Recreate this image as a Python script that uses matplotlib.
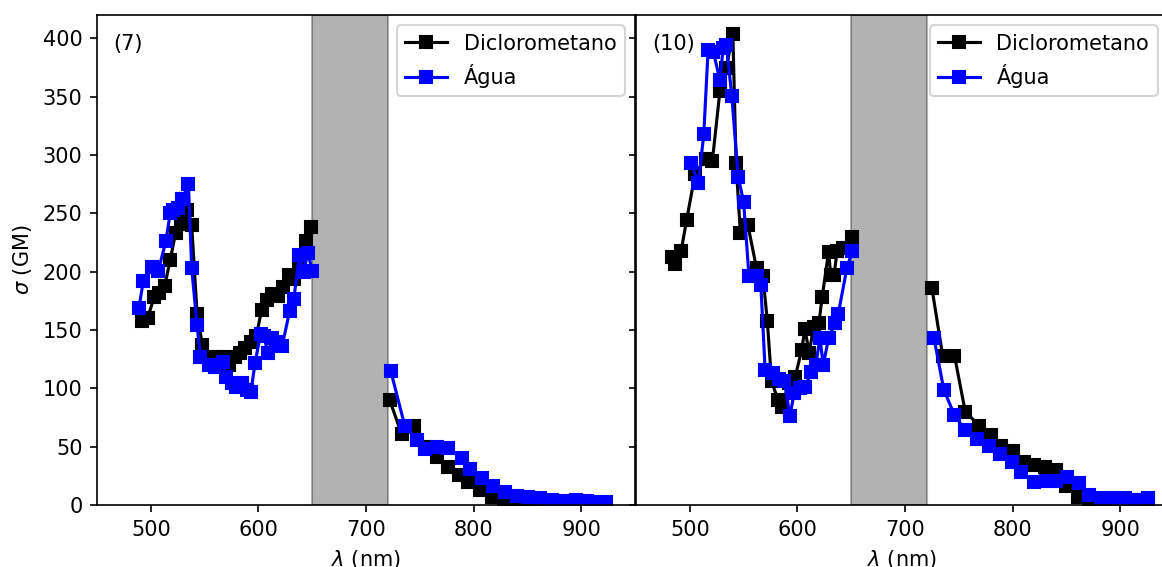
"""
Two-photon absorption cross-section of compounds (7) and (10)
in dichloromethane and water.
"""

import matplotlib
matplotlib.use("Agg")
import matplotlib.pyplot as plt

DPI = 150

# compound (7) - dichloromethane
dcm7_x1 = [492, 497, 503, 508, 513, 518, 523, 528, 534, 538, 543, 548, 553, 558, 563, 568,
           573, 578, 583, 588, 593, 598, 603, 608, 613, 618, 623, 628, 633, 638, 644, 649]
dcm7_y1 = [158, 160, 178, 182, 188, 210, 233, 241, 253, 240, 164, 137, 127, 122, 127, 127,
           120, 127, 130, 135, 140, 145, 167, 176, 181, 179, 187, 197, 194, 205, 226, 238]
dcm7_x2 = [722, 733, 745, 755, 766, 776, 786, 795, 806, 817, 828, 837, 848, 858, 869, 880,
           890, 900, 911, 921]
dcm7_y2 = [90, 61, 68, 50, 41, 33, 26, 20, 13, 7, 3, 1.5, 1, 1, 1, 1.5, 2, 2, 2, 2]

# compound (7) - water
agua7_x1 = [489, 493, 501, 507, 514, 518, 521, 525, 529, 535, 538, 543, 546, 554, 560, 567,
            570, 575, 579, 585, 589, 593, 597, 602, 605, 609, 613, 617, 622, 629, 633, 638,
            642, 646, 650]
agua7_y1 = [169, 192, 204, 201, 226, 250, 253, 255, 262, 275, 203, 154, 127, 120, 118, 123,
            110, 105, 101, 105, 99, 97, 122, 147, 145, 130, 143, 140, 136, 166, 177, 214,
            200, 216, 201]
agua7_x2 = [723, 736, 747, 755, 766, 776, 789, 797, 808, 818, 829, 840, 851, 862, 873, 884,
            895, 905, 914, 923]
agua7_y2 = [115, 68, 56, 48, 50, 49, 40, 31, 23, 16, 11, 8, 7, 6, 4, 3.5, 4, 3.5, 3, 3]

# compound (10) - dichloromethane
dcm10_x1 = [483, 486, 492, 497, 505, 515, 521, 528, 534, 540, 543, 547, 554, 562, 568, 572,
            576, 582, 586, 592, 598, 604, 607, 611, 615, 620, 623, 629, 631, 634, 637, 642, 651]
dcm10_y1 = [213, 207, 218, 244, 284, 297, 295, 355, 375, 404, 293, 233, 240, 203, 196, 158,
            106, 90, 84, 105, 110, 133, 151, 130, 153, 156, 178, 217, 197, 197, 218, 220, 230]
dcm10_x2 = [725, 735, 746, 756, 769, 780, 789, 800, 811, 820, 830, 840, 850, 861, 871, 882,
            893, 904, 915, 926]
dcm10_y2 = [186, 128, 128, 80, 68, 60, 51, 46, 37, 34, 33, 30, 16, 7, 4, 4, 4, 4, 4, 4]

# compound (10) - water
agua10_x1 = [501, 508, 513, 517, 522, 528, 531, 534, 539, 545, 550, 555, 562, 566, 570, 577,
             583, 588, 593, 597, 602, 607, 613, 617, 621, 624, 629, 635, 638, 646, 651]
agua10_y1 = [293, 276, 318, 390, 388, 364, 392, 394, 351, 281, 260, 196, 196, 189, 116, 113,
             108, 106, 76, 96, 100, 101, 114, 120, 143, 120, 143, 156, 164, 203, 218]
agua10_x2 = [727, 736, 746, 756, 767, 778, 788, 799, 808, 820, 831, 840, 851, 862, 871, 882,
             893, 904, 913, 926]
agua10_y2 = [143, 99, 77, 64, 57, 51, 44, 37, 28, 20, 21, 21, 24, 19, 9, 6, 6, 6, 4, 6]

xticks = [500, 600, 700, 800, 900]
yticks = [0, 50, 100, 150, 200, 250, 300, 350, 400]


def draw_panel(ax, tag, dcm, agua):
    ax.axvspan(650, 720, color="k", alpha=0.3)
    for i, (x, y) in enumerate(dcm):
        ax.plot(x, y, "s-", color="k", label="Diclorometano" if i == 0 else None)
    for i, (x, y) in enumerate(agua):
        ax.plot(x, y, "s-", color="b", label="Água" if i == 0 else None)
    ax.text(465, 395, tag, va="center", ha="left")
    ax.set_xticks(xticks)
    ax.set_xlabel(r"$\lambda$ (nm)")
    ax.legend(loc="upper right")


fig = plt.figure(figsize=(1162 / DPI, 567 / DPI), dpi=DPI)
W, H = 1162, 567
ax1 = fig.add_axes([97 / W, 62 / H, 538 / W, 490 / H])
# right panel runs slightly past the figure edge, as in the original
ax2 = fig.add_axes([636 / W, 62 / H, 532 / W, 490 / H], sharey=ax1)

draw_panel(ax1, "(7)", [(dcm7_x1, dcm7_y1), (dcm7_x2, dcm7_y2)],
           [(agua7_x1, agua7_y1), (agua7_x2, agua7_y2)])
draw_panel(ax2, "(10)", [(dcm10_x1, dcm10_y1), (dcm10_x2, dcm10_y2)],
           [(agua10_x1, agua10_y1), (agua10_x2, agua10_y2)])

ax1.set_xlim(450, 950)
ax2.set_xlim(450, 450 + 532 * 500 / 538)
ax1.set_ylim(0, 420)
ax1.set_yticks(yticks)
ax1.set_ylabel(r"$\sigma$ (GM)")
ax2.tick_params(labelleft=False)

fig.savefig("out.png", dpi=DPI)
